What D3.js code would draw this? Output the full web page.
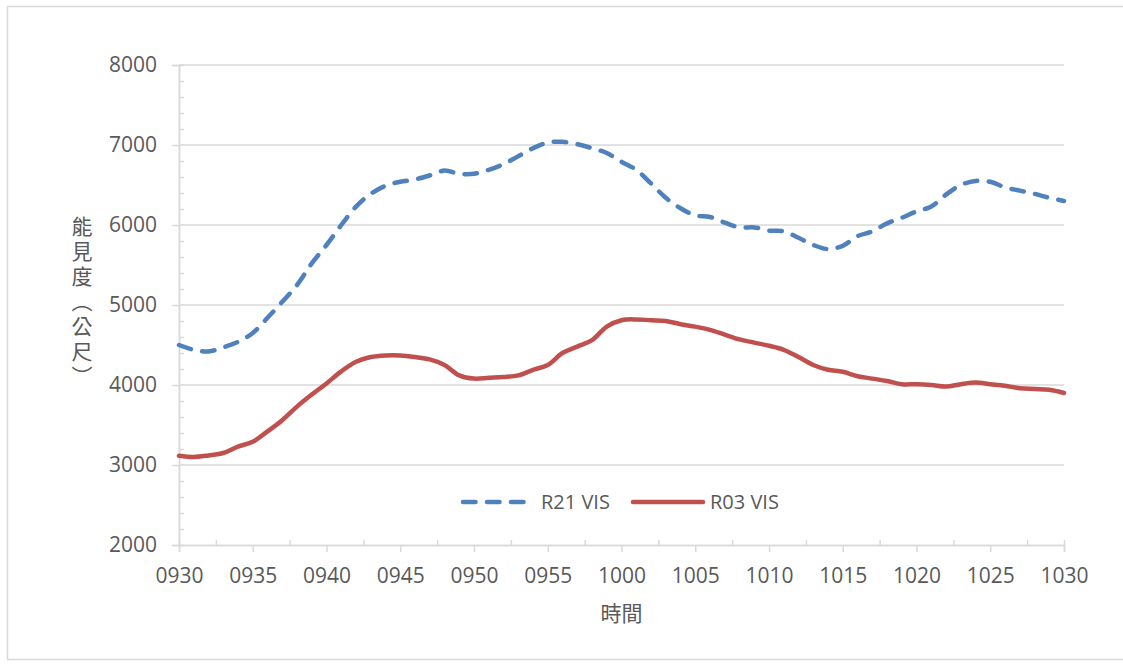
<!DOCTYPE html>
<html>
<head>
<meta charset="utf-8">
<script src="https://cdn.jsdelivr.net/npm/d3@7"></script>
<style>
  body { margin: 0; background: #fff; }
  text { font-family: "Open Sans", "Noto Sans", sans-serif; fill: #595959; }
  .cjk { font-family: "Noto Sans CJK TC", "Noto Sans CJK SC", sans-serif; }
</style>
</head>
<body>
<svg id="chart"></svg>
<script>
// minutes after 09:30, one reading per minute
const minutes = d3.range(0, 61);
const r21 = [
  4500, 4440, 4420, 4470, 4540, 4650, 4840, 5040, 5250, 5520,
  5750, 6000, 6230, 6390, 6490, 6540, 6570, 6620, 6680, 6640,
  6640, 6690, 6760, 6860, 6960, 7030, 7040, 7010, 6960, 6900,
  6790, 6690, 6520, 6340, 6210, 6120, 6100, 6030, 5970, 5970,
  5930, 5920, 5840, 5750, 5700, 5740, 5860, 5920, 6020, 6090,
  6170, 6230, 6380, 6500, 6550, 6540, 6470, 6430, 6390, 6340,
  6300
];
const r03 = [
  3115, 3100, 3120, 3150, 3230, 3290, 3420, 3560, 3730, 3880,
  4020, 4170, 4290, 4350, 4370, 4370, 4350, 4320, 4250, 4120,
  4080, 4090, 4100, 4120, 4190, 4250, 4400, 4480, 4560, 4730,
  4810, 4820, 4810, 4800, 4760, 4730, 4690, 4630, 4570, 4530,
  4490, 4440, 4350, 4250, 4190, 4165, 4110, 4080, 4050, 4010,
  4010, 4000, 3980, 4010, 4030, 4010, 3990, 3960, 3950, 3940,
  3900
];
const xTickLabels = ["0930", "0935", "0940", "0945", "0950", "0955", "1000",
                     "1005", "1010", "1015", "1020", "1025", "1030"];
const yTicks = [2000, 3000, 4000, 5000, 6000, 7000, 8000];
const seriesNames = ["R21 VIS", "R03 VIS"];
const yTitle = "能見度（公尺）";
const xTitle = "時間";

const W = 1123, H = 666;
const margin = { top: 65, right: 59, bottom: 121, left: 179 };
const innerW = W - margin.left - margin.right,
      innerH = H - margin.top - margin.bottom;
const gridColor = "#d9d9d9";
const colors = ["#4f81bd", "#c0504d"];

const svg = d3.select("#chart").attr("width", W).attr("height", H);

svg.append("rect")
  .attr("x", 7.5).attr("y", 6.5)
  .attr("width", 1200).attr("height", 653)
  .attr("fill", "none").attr("stroke", gridColor).attr("stroke-width", 1.5);

const g = svg.append("g").attr("transform", "translate(" + [margin.left, margin.top] + ")");

const x = d3.scaleLinear().domain([0, 60]).range([0, innerW]);
const y = d3.scaleLinear().domain([2000, 8000]).range([innerH, 0]);

// gridlines
g.append("g").selectAll("line")
  .data(yTicks.slice(1))
  .enter().append("line")
  .attr("x1", 0).attr("x2", innerW)
  .attr("y1", d => y(d)).attr("y2", d => y(d))
  .attr("stroke", gridColor).attr("stroke-width", 1.5);

// y axis
const yAxis = g.append("g")
  .call(d3.axisLeft(y).tickValues(yTicks).tickSize(7).tickPadding(15).tickFormat(d3.format("d")));
yAxis.selectAll("text").style("font-size", "21px");
g.append("g")
  .call(d3.axisRight(y).tickValues(d3.range(2000, 8001, 200).filter(d => d % 1000)).tickSize(5).tickFormat(""));

// x axis
const xAxis = g.append("g")
  .attr("transform", "translate(0," + innerH + ")")
  .call(d3.axisBottom(x).tickValues(d3.range(0, 61, 5)).tickSize(7).tickPadding(16)
    .tickFormat((d, i) => xTickLabels[i]));
xAxis.selectAll("text").style("font-size", "21px");
g.append("g")
  .attr("transform", "translate(0," + innerH + ")")
  .call(d3.axisTop(x).tickValues(d3.range(2.5, 60, 5)).tickSize(5).tickFormat(""));

g.selectAll(".domain, .tick line").attr("stroke", gridColor).attr("stroke-width", 1.5);

// lines
const line = d3.line()
  .x((d, i) => x(minutes[i]))
  .y(d => y(d))
  .curve(d3.curveCatmullRom);

g.append("path")
  .datum(r03)
  .attr("d", line)
  .attr("fill", "none")
  .attr("stroke", colors[1])
  .attr("stroke-width", 4.5)
  .attr("stroke-linejoin", "round")
  .attr("stroke-linecap", "round");

g.append("path")
  .datum(r21)
  .attr("d", line)
  .attr("fill", "none")
  .attr("stroke", colors[0])
  .attr("stroke-width", 4.5)
  .attr("stroke-dasharray", "12.5 11.5")
  .attr("stroke-linecap", "round");

// legend
const legend = svg.append("g").attr("transform", "translate(0,502)");
const legendX = [463, 633];
seriesNames.forEach((name, i) => {
  legend.append("line")
    .attr("x1", legendX[i]).attr("x2", legendX[i] + (i ? 70 : 65))
    .attr("y1", 0).attr("y2", 0)
    .attr("stroke", colors[i])
    .attr("stroke-width", 4.5)
    .attr("stroke-linecap", "round")
    .attr("stroke-dasharray", i ? null : "12.5 11.5");
  legend.append("text")
    .attr("x", legendX[i] + (i ? 77 : 78))
    .attr("dy", "0.35em")
    .style("font-size", "20px")
    .text(name);
});

// axis titles
svg.append("text")
  .attr("class", "cjk")
  .attr("x", 82).attr("y", 303)
  .attr("text-anchor", "middle")
  .style("writing-mode", "vertical-rl")
  .style("text-orientation", "upright")
  .style("letter-spacing", "4px")
  .style("font-size", "21px")
  .text(yTitle);

svg.append("text")
  .attr("class", "cjk")
  .attr("x", margin.left + innerW / 2)
  .attr("y", 613)
  .attr("text-anchor", "middle")
  .attr("dy", "0.36em")
  .style("font-size", "21px")
  .text(xTitle);
</script>
</body>
</html>
